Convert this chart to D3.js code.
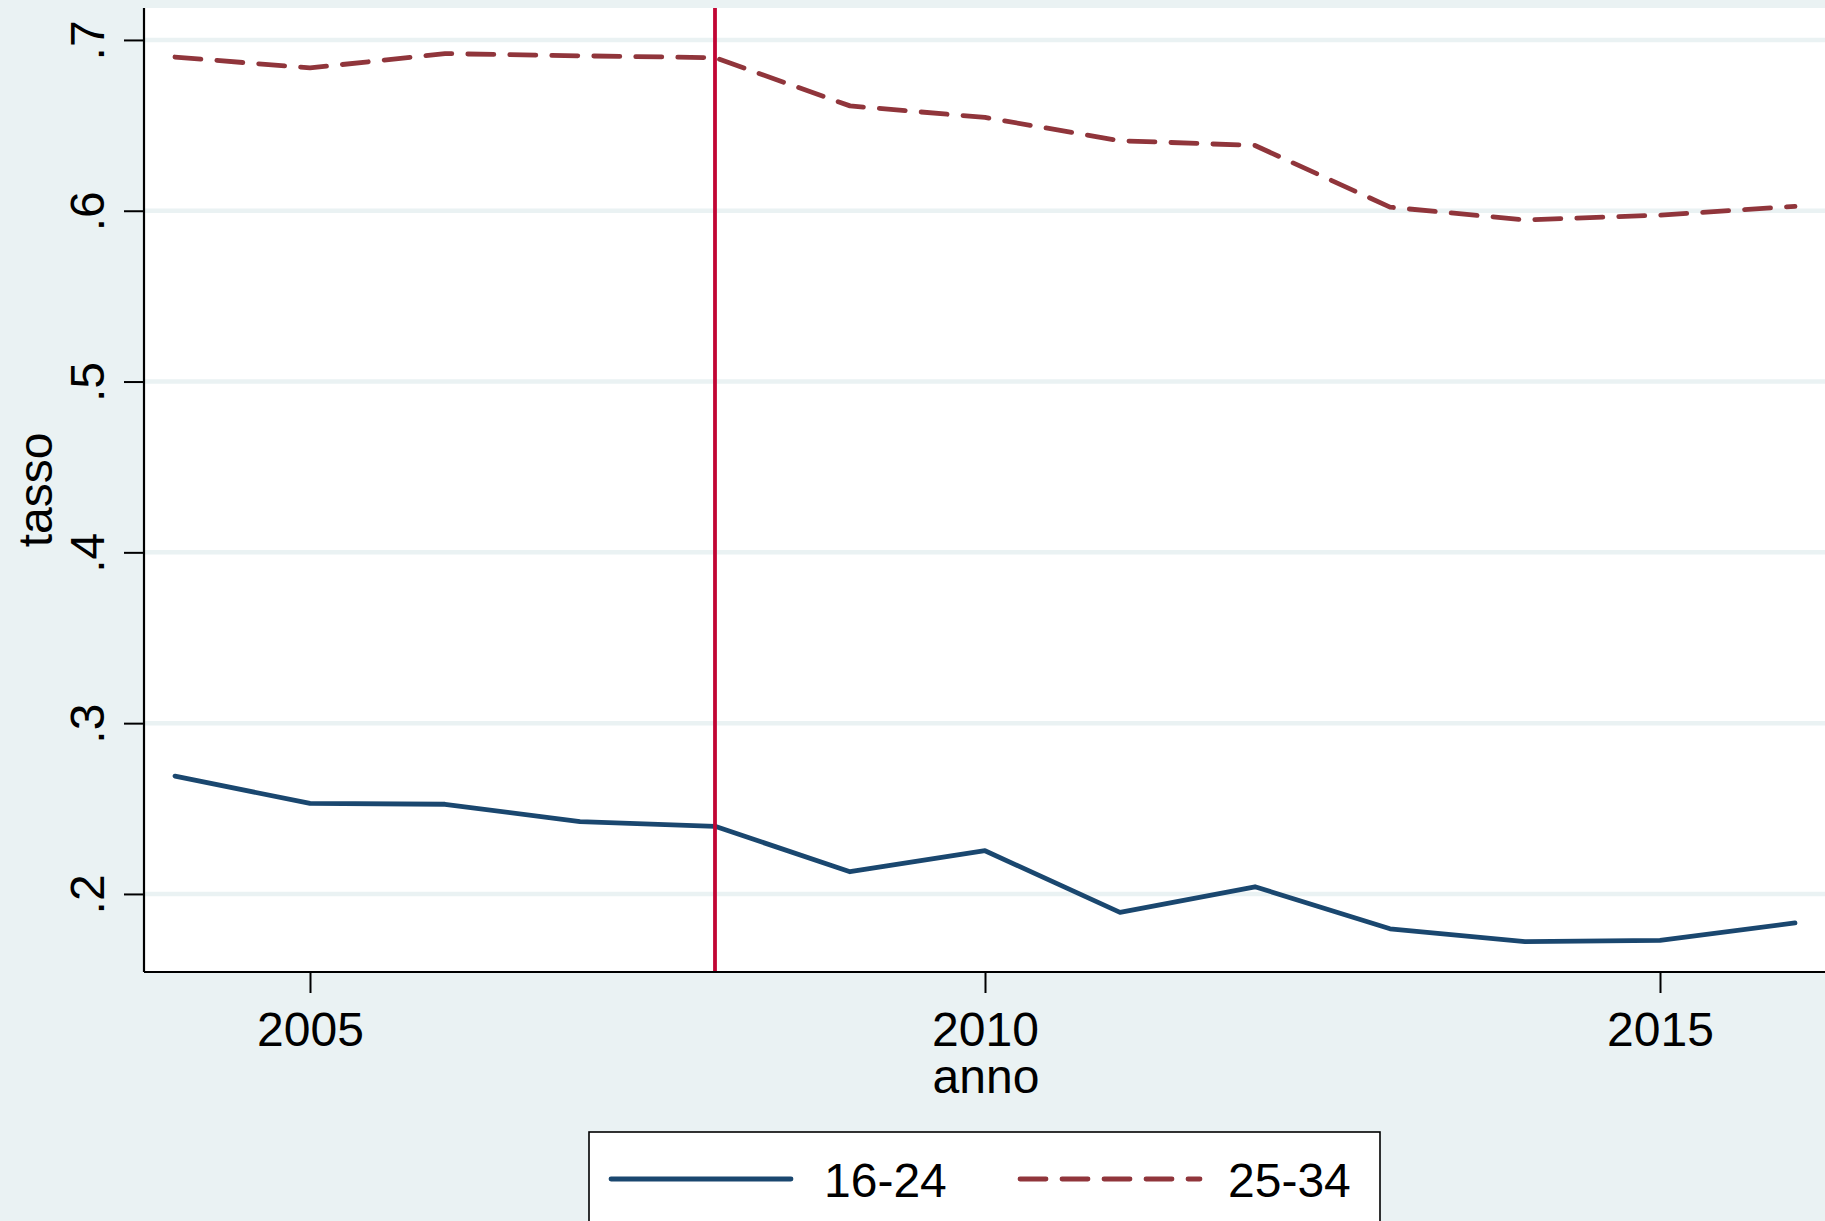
<!DOCTYPE html>
<html>
<head>
<meta charset="utf-8">
<script src="https://cdn.jsdelivr.net/npm/d3@7"></script>
<style>
  html, body { margin: 0; padding: 0; background: #eaf2f3; }
  svg { display: block; }
  text { font-family: "Liberation Sans", Arial, sans-serif; fill: #000; }
</style>
</head>
<body>
<svg id="chart" width="1825" height="1221"></svg>
<script>
// ---- data ----
const years = [2004, 2005, 2006, 2007, 2008, 2009, 2010, 2011, 2012, 2013, 2014, 2015, 2016];
const rate1624 = [0.269, 0.253, 0.2525, 0.2423, 0.2396, 0.213, 0.2253, 0.1892, 0.2042, 0.1796, 0.1721, 0.1728, 0.183];
const rate2534 = [0.690, 0.6836, 0.692, 0.6907, 0.6896, 0.6614, 0.6546, 0.641, 0.6382, 0.6021, 0.5946, 0.5974, 0.6026];
const seriesNames = ["16-24", "25-34"];
const xTicks = [2005, 2010, 2015];
const yTicks = [0.2, 0.3, 0.4, 0.5, 0.6, 0.7];
const yTickLabels = [".2", ".3", ".4", ".5", ".6", ".7"];
const markerYear = 2008;
const xTitle = "anno";
const yTitle = "tasso";

// ---- layout ----
const W = 1825, H = 1221;
const plot = { left: 144, right: 1825, top: 8, bottom: 972 };
const bg = "#eaf2f3";
const navy = "#1a476f", maroon = "#90353b", cranberry = "#c10534";

const svg = d3.select("#chart");
svg.append("rect").attr("width", W).attr("height", H).attr("fill", bg);

const x = d3.scaleLinear().domain([2003.7704, 2016.2222]).range([plot.left, plot.right]);
const y = d3.scaleLinear().domain([0.1543, 0.7187]).range([plot.bottom, plot.top]);

// plot region
svg.append("rect")
  .attr("x", plot.left).attr("y", plot.top)
  .attr("width", plot.right - plot.left).attr("height", plot.bottom - plot.top)
  .attr("fill", "#fff");

// gridlines
svg.append("g").selectAll("line").data(yTicks).join("line")
  .attr("x1", plot.left).attr("x2", plot.right)
  .attr("y1", d => y(d)).attr("y2", d => y(d))
  .attr("stroke", bg).attr("stroke-width", 4.5);

// lines
const line = d3.line().x((d, i) => x(years[i])).y(d => y(d));

svg.append("path").datum(rate1624)
  .attr("d", line).attr("fill", "none")
  .attr("stroke", navy).attr("stroke-width", 4.8)
  .attr("stroke-linejoin", "round").attr("stroke-linecap", "round");

svg.append("path").datum(rate2534)
  .attr("d", line).attr("fill", "none")
  .attr("stroke", maroon).attr("stroke-width", 4.8)
  .attr("stroke-dasharray", "26,16")
  .attr("stroke-linejoin", "round").attr("stroke-linecap", "round");

// vertical marker line
svg.append("line")
  .attr("x1", x(markerYear)).attr("x2", x(markerYear))
  .attr("y1", plot.top).attr("y2", plot.bottom)
  .attr("stroke", cranberry).attr("stroke-width", 3.8);

// y axis
const yAxis = d3.axisLeft(y).tickValues(yTicks)
  .tickFormat((d, i) => yTickLabels[i]).tickSize(20).tickPadding(0);
const gy = svg.append("g").attr("transform", `translate(${plot.left},0)`).call(yAxis);
gy.select(".domain").attr("stroke", "#000").attr("stroke-width", 2.2)
  .attr("d", `M0,${plot.top}V${plot.bottom}`);
gy.selectAll(".tick line").attr("stroke", "#000").attr("stroke-width", 2);
gy.selectAll(".tick text")
  .attr("font-size", 48)
  .attr("font-family", "Liberation Sans, Arial, sans-serif")
  .attr("fill", "#000")
  .attr("text-anchor", "middle")
  .attr("dy", null)
  .attr("x", null)
  .attr("transform", "translate(-40,0) rotate(-90)")
  .attr("y", 0);

// x axis
const xAxis = d3.axisBottom(x).tickValues(xTicks).tickFormat(d3.format("d"))
  .tickSize(21).tickPadding(0);
const gx = svg.append("g").attr("transform", `translate(0,${plot.bottom})`).call(xAxis);
gx.select(".domain").attr("stroke", "#000").attr("stroke-width", 2.2)
  .attr("d", `M${plot.left},0H${plot.right}`);
gx.selectAll(".tick line").attr("stroke", "#000").attr("stroke-width", 2);
gx.selectAll(".tick text")
  .attr("font-size", 48)
  .attr("font-family", "Liberation Sans, Arial, sans-serif")
  .attr("fill", "#000")
  .attr("dy", null)
  .attr("y", 74);

// axis titles
svg.append("text")
  .attr("x", (x(2005) + x(2015)) / 2 + 1).attr("y", 1093)
  .attr("text-anchor", "middle").attr("font-size", 48)
  .text(xTitle);

svg.append("text")
  .attr("transform", "translate(52,490) rotate(-90)")
  .attr("text-anchor", "middle").attr("font-size", 48)
  .text(yTitle);

// legend
const legend = svg.append("g");
legend.append("rect")
  .attr("x", 589).attr("y", 1132)
  .attr("width", 791).attr("height", 120)
  .attr("fill", "#fff").attr("stroke", "#000").attr("stroke-width", 1.6);

const legendItems = [
  { name: seriesNames[0], color: navy, dash: null, x1: 611, x2: 791, tx: 824 },
  { name: seriesNames[1], color: maroon, dash: "26,16", x1: 1020, x2: 1200, tx: 1228 }
];
legendItems.forEach(it => {
  legend.append("line")
    .attr("x1", it.x1).attr("x2", it.x2).attr("y1", 1179).attr("y2", 1179)
    .attr("stroke", it.color).attr("stroke-width", 4.8)
    .attr("stroke-linecap", "round")
    .attr("stroke-dasharray", it.dash);
  legend.append("text")
    .attr("x", it.tx).attr("y", 1197)
    .attr("font-size", 48)
    .text(it.name);
});
</script>
</body>
</html>
